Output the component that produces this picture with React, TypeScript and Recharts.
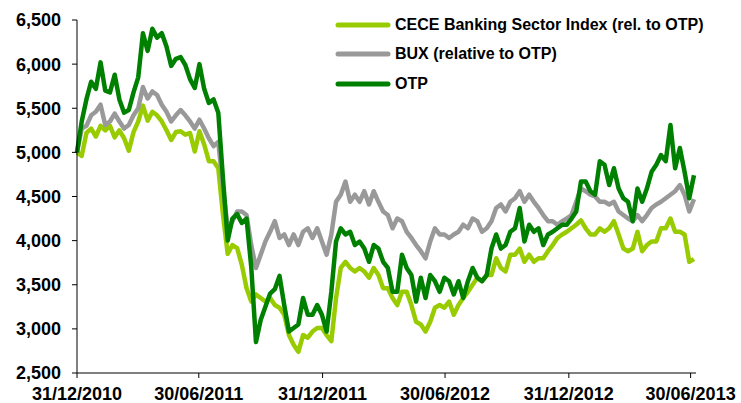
import { LineChart, Line, XAxis, YAxis, Legend } from 'recharts';

// weekly closes, first point on 31/12/2010
const cece = [
    5000, 4960, 5220, 5270, 5180, 5300, 5250, 5300, 5170, 5250, 5160, 5020, 5230, 5350, 5530, 5360, 5460, 5420, 5350, 5250, 5140, 5230,
    5240, 5200, 5220, 5010, 5240, 5090, 4900, 4900, 4820, 4290, 3850, 3950, 3915, 3725, 3460, 3310, 3390, 3350, 3310, 3350, 3270, 3240,
    3160, 2930, 2820, 2740, 2930, 2900, 2970, 3010, 3010, 2930, 2860, 3350, 3690, 3760, 3690, 3650, 3690, 3650, 3580, 3690, 3610, 3460,
    3460, 3350, 3270, 3420, 3420, 3270, 3080, 3050, 2970, 3080, 3240, 3270, 3240, 3310, 3160, 3270, 3350, 3420, 3500, 3580, 3540, 3610,
    3610, 3800, 3690, 3650, 3840, 3840, 3910, 3760, 3840, 3760, 3800, 3800, 3880, 3950, 4030, 4070, 4100, 4140, 4180, 4230, 4140, 4070,
    4070, 4140, 4100, 4140, 4220, 4070, 3910, 3880, 3910, 4100, 3880, 3950, 3990, 3990, 4140, 4140, 4250, 4100, 4100, 4070,
    3760, 3790
];

const bux = [
    5000, 5270, 5300, 5420, 5460, 5540, 5310, 5350, 5440, 5350, 5270, 5310, 5420, 5500, 5740, 5610, 5690, 5650, 5540, 5460, 5350, 5420,
    5480, 5420, 5350, 5270, 5370, 5270, 5160, 5070, 5120, 4600, 4140, 4220, 4330, 4330, 4290, 3950, 3690, 3840, 3990, 4100, 4220, 4030,
    4070, 3950, 4070, 3950, 4100, 4140, 4030, 4140, 3990, 3840, 4070, 4440, 4520, 4670, 4440, 4520, 4440, 4560, 4410, 4560, 4440, 4330,
    4290, 4140, 4250, 4220, 4100, 4030, 3950, 3880, 3800, 3990, 4140, 4070, 4070, 4030, 4070, 4100, 4180, 4140, 4250, 4220, 4100, 4140,
    4220, 4370, 4410, 4330, 4440, 4480, 4560, 4440, 4520, 4440, 4370, 4290, 4220, 4220, 4180, 4220, 4250, 4290, 4440, 4590, 4560, 4520,
    4500, 4440, 4440, 4410, 4440, 4330, 4290, 4250, 4220, 4290, 4220, 4290, 4370, 4410, 4440, 4480, 4520, 4560, 4630, 4520,
    4330, 4470
];

const otp = [
    5000, 5350, 5600, 5800, 5720, 6020, 5700, 5680, 5880, 5600, 5450, 5480, 5680, 5850, 6350, 6150, 6400, 6300, 6350, 6200, 5980, 6060,
    6080, 5990, 5830, 5730, 6000, 5720, 5560, 5600, 5450, 4700, 4000, 4250, 4300, 4200, 4250, 3700, 2850, 3100, 3250, 3400, 3450, 3600,
    3270, 2970, 3010, 3050, 3350, 3160, 3160, 3270, 3160, 2970, 3420, 3990, 4140, 4070, 4100, 3950, 3990, 3910, 3760, 3950, 3910, 3760,
    3690, 3420, 3420, 3840, 3690, 3610, 3310, 3580, 3350, 3610, 3540, 3420, 3580, 3540, 3390, 3540, 3350, 3540, 3690, 3580, 3540, 3610,
    3910, 4070, 3910, 3950, 4100, 4140, 4370, 3990, 4180, 4100, 4140, 3950, 4070, 4100, 4140, 4180, 4180, 4250, 4330, 4670, 4670, 4560,
    4520, 4900, 4860, 4630, 4820, 4590, 4480, 4440, 4220, 4590, 4440, 4590, 4780, 4860, 4970, 4900, 5310, 4820, 5050, 4780,
    4480, 4740
];

// x axis in days since 31/12/2010
const tickDays = [0, 181, 365, 547, 731, 912];
const tickLabels = ['31/12/2010', '30/06/2011', '31/12/2011', '30/06/2012', '31/12/2012', '30/06/2013'];
const yTicks = [2500, 3000, 3500, 4000, 4500, 5000, 5500, 6000, 6500];
const legendOrder = ['cece', 'bux', 'otp'];

const data = otp.map((v, i) => ({ day: i * 7, cece: cece[i], bux: bux[i], otp: v }));

const font = 'Arial, "Liberation Sans", sans-serif';

function renderLegend(props: any) {
    const items = [...(props.payload || [])].sort(
        (a: any, b: any) => legendOrder.indexOf(a.dataKey) - legendOrder.indexOf(b.dataKey)
    );
    return (
        <div style={{ fontFamily: font, fontWeight: 'bold', fontSize: 16, color: '#000' }}>
            {items.map((entry: any, index: number) => (
                <div key={index} style={{ display: 'flex', alignItems: 'center', height: 29.5 }}>
                    <svg width={58} height={8} style={{ marginRight: 3 }}>
                        <line x1={4} y1={4} x2={54} y2={4} stroke={entry.color} strokeWidth={5} strokeLinecap="round" />
                    </svg>
                    <span>{entry.value}</span>
                </div>
            ))}
        </div>
    );
}

export default function App() {
    const tickStyle = { fontFamily: font, fontWeight: 'bold', fontSize: 18, fill: '#000' };
    return (
        <div style={{ position: 'absolute', left: 0, top: 0, background: '#fff' }}>
            <LineChart width={741} height={403} data={data} margin={{ top: 20, right: 45, bottom: 0, left: 0 }}>
                <XAxis
                    dataKey="day"
                    type="number"
                    domain={[0, 920]}
                    ticks={tickDays}
                    tickFormatter={(d: number) => tickLabels[tickDays.indexOf(d)]}
                    stroke="#000"
                    tickSize={5}
                    tickMargin={9}
                    height={30}
                    tick={tickStyle}
                    interval={0}
                />
                <YAxis
                    domain={[2500, 6500]}
                    ticks={yTicks}
                    tickFormatter={(v: number) => v.toLocaleString('en-US')}
                    stroke="#000"
                    tickSize={5}
                    tickMargin={11}
                    width={77}
                    tick={tickStyle}
                    interval={0}
                />
                <Legend
                    layout="vertical"
                    align="center"
                    verticalAlign="middle"
                    content={renderLegend}
                    wrapperStyle={{ top: 10, left: 334, width: 400, height: 90 }}
                />
                <Line type="linear" dataKey="cece" name="CECE Banking Sector Index (rel. to OTP)" stroke="#99cc00" strokeWidth={4.5} dot={false} isAnimationActive={false} strokeLinejoin="round" />
                <Line type="linear" dataKey="bux" name="BUX (relative to OTP)" stroke="#999999" strokeWidth={4.5} dot={false} isAnimationActive={false} strokeLinejoin="round" />
                <Line type="linear" dataKey="otp" name="OTP" stroke="#008000" strokeWidth={4.5} dot={false} isAnimationActive={false} strokeLinejoin="round" />
            </LineChart>
        </div>
    );
}
